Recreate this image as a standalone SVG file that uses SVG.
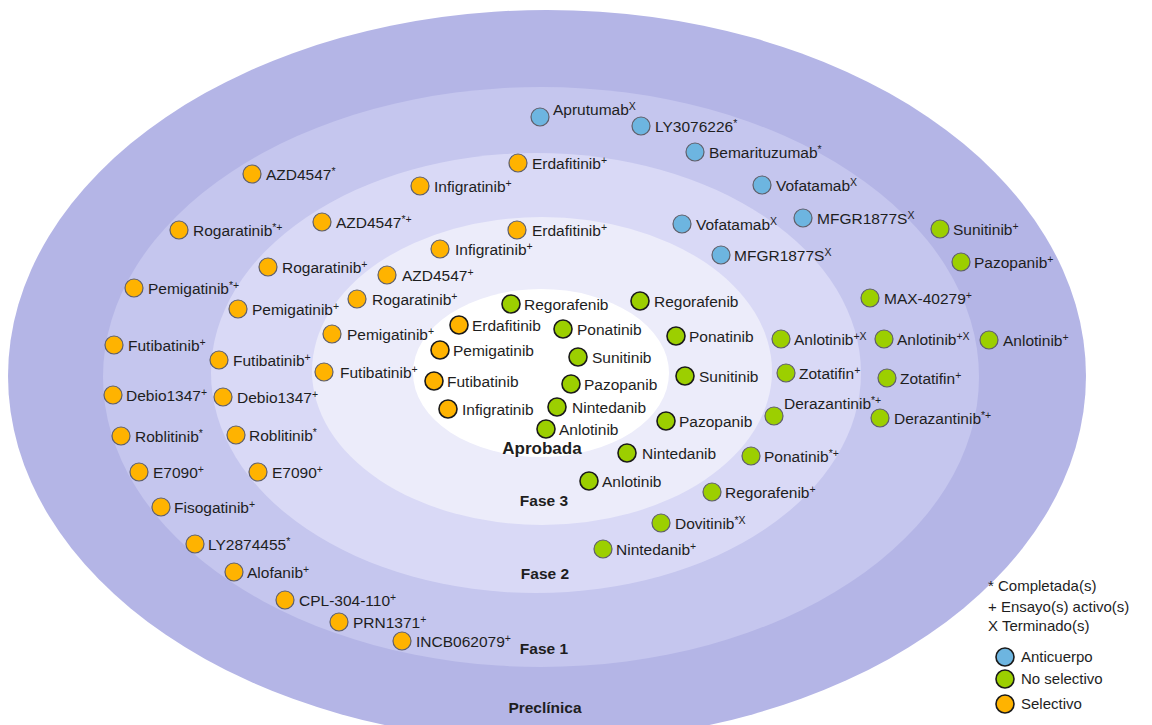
<svg xmlns="http://www.w3.org/2000/svg" width="1152" height="725" viewBox="0 0 1152 725">
<style>
text{font-family:"Liberation Sans",Arial,sans-serif;fill:#1e1e1e}
.l{font-size:15.5px}
.s{font-size:10.5px}
.ph{font-size:15.5px;font-weight:bold;text-anchor:middle}
.lg{font-size:15px}
circle{stroke:#5f5f6a;stroke-width:1.2}
.sel{fill:#ffb300}
.ns{fill:#9ccf00}
.ab{fill:#6db5e0}
.dk{stroke:#1a1a1a;stroke-width:1.6}
</style>
<g id="rings">
<ellipse cx="547" cy="376" rx="539" ry="366" fill="#b4b5e6"/>
<ellipse cx="541" cy="377" rx="438" ry="290" fill="#c5c6ee"/>
<ellipse cx="536" cy="373" rx="325" ry="220" fill="#d9d9f6"/>
<ellipse cx="542" cy="371" rx="230" ry="154" fill="#ececfa"/>
<ellipse cx="541" cy="373" rx="128" ry="84" fill="#ffffff"/>
</g>
<g id="phase-labels">
<text class="ph" x="542" y="454" style="font-size:17px">Aprobada</text>
<text class="ph" x="544" y="506">Fase 3</text>
<text class="ph" x="545" y="579">Fase 2</text>
<text class="ph" x="544" y="654">Fase 1</text>
<text class="ph" x="545" y="713">Preclínica</text>
</g>
<g id="aprobada">
<g id="a-erdafitinib"><circle class="sel dk" cx="459" cy="325" r="9"/><text class="l" x="472" y="331">Erdafitinib</text></g>
<g id="a-pemigatinib"><circle class="sel dk" cx="440" cy="350" r="9"/><text class="l" x="453" y="356">Pemigatinib</text></g>
<g id="a-futibatinib"><circle class="sel dk" cx="434" cy="381" r="9"/><text class="l" x="447" y="387">Futibatinib</text></g>
<g id="a-infigratinib"><circle class="sel dk" cx="448" cy="409" r="9"/><text class="l" x="462" y="415">Infigratinib</text></g>
<g id="a-regorafenib"><circle class="ns dk" cx="511" cy="304" r="9"/><text class="l" x="524" y="310">Regorafenib</text></g>
<g id="a-ponatinib"><circle class="ns dk" cx="563" cy="329" r="9"/><text class="l" x="577" y="335">Ponatinib</text></g>
<g id="a-sunitinib"><circle class="ns dk" cx="578" cy="357" r="9"/><text class="l" x="592" y="363">Sunitinib</text></g>
<g id="a-pazopanib"><circle class="ns dk" cx="571" cy="384" r="9"/><text class="l" x="584" y="390">Pazopanib</text></g>
<g id="a-nintedanib"><circle class="ns dk" cx="557" cy="407" r="9"/><text class="l" x="572" y="413">Nintedanib</text></g>
<g id="a-anlotinib"><circle class="ns dk" cx="546" cy="429" r="9"/><text class="l" x="559" y="435">Anlotinib</text></g>
</g>
<g id="fase3">
<g id="f3-erdafitinib"><circle class="sel" cx="517" cy="230" r="9"/><text class="l" x="532" y="236">Erdafitinib<tspan class="s" dy="-5">+</tspan></text></g>
<g id="f3-infigratinib"><circle class="sel" cx="440" cy="249" r="9"/><text class="l" x="455" y="255">Infigratinib<tspan class="s" dy="-5">+</tspan></text></g>
<g id="f3-azd4547"><circle class="sel" cx="387" cy="275" r="9"/><text class="l" x="402" y="281">AZD4547<tspan class="s" dy="-5">+</tspan></text></g>
<g id="f3-rogaratinib"><circle class="sel" cx="357" cy="299" r="9"/><text class="l" x="372" y="305">Rogaratinib<tspan class="s" dy="-5">+</tspan></text></g>
<g id="f3-pemigatinib"><circle class="sel" cx="332" cy="334" r="9"/><text class="l" x="347" y="340">Pemigatinib<tspan class="s" dy="-5">+</tspan></text></g>
<g id="f3-futibatinib"><circle class="sel" cx="324" cy="372" r="9"/><text class="l" x="340" y="378">Futibatinib<tspan class="s" dy="-5">+</tspan></text></g>
<g id="f3-vofatamab"><circle class="ab" cx="682" cy="224" r="9"/><text class="l" x="696" y="230">Vofatamab<tspan class="s" dy="-5">X</tspan></text></g>
<g id="f3-mfgr1877s"><circle class="ab" cx="721" cy="255" r="9"/><text class="l" x="734" y="261">MFGR1877S<tspan class="s" dy="-5">X</tspan></text></g>
<g id="f3-regorafenib"><circle class="ns dk" cx="640" cy="301" r="9"/><text class="l" x="654" y="307">Regorafenib</text></g>
<g id="f3-ponatinib"><circle class="ns dk" cx="676" cy="336" r="9"/><text class="l" x="689" y="342">Ponatinib</text></g>
<g id="f3-sunitinib"><circle class="ns dk" cx="685" cy="376" r="9"/><text class="l" x="699" y="382">Sunitinib</text></g>
<g id="f3-pazopanib"><circle class="ns dk" cx="666" cy="421" r="9"/><text class="l" x="679" y="427">Pazopanib</text></g>
<g id="f3-nintedanib"><circle class="ns dk" cx="627" cy="453" r="9"/><text class="l" x="642" y="459">Nintedanib</text></g>
<g id="f3-anlotinib"><circle class="ns dk" cx="589" cy="481" r="9"/><text class="l" x="602" y="487">Anlotinib</text></g>
</g>
<g id="fase2">
<g id="f2-erdafitinib"><circle class="sel" cx="518" cy="163" r="9"/><text class="l" x="532" y="169">Erdafitinib<tspan class="s" dy="-5">+</tspan></text></g>
<g id="f2-infigratinib"><circle class="sel" cx="420" cy="186" r="9"/><text class="l" x="434" y="192">Infigratinib<tspan class="s" dy="-5">+</tspan></text></g>
<g id="f2-azd4547"><circle class="sel" cx="322" cy="222" r="9"/><text class="l" x="336" y="228">AZD4547<tspan class="s" dy="-5">*+</tspan></text></g>
<g id="f2-rogaratinib"><circle class="sel" cx="268" cy="267" r="9"/><text class="l" x="282" y="273">Rogaratinib<tspan class="s" dy="-5">+</tspan></text></g>
<g id="f2-pemigatinib"><circle class="sel" cx="238" cy="309" r="9"/><text class="l" x="252" y="315">Pemigatinib<tspan class="s" dy="-5">+</tspan></text></g>
<g id="f2-futibatinib"><circle class="sel" cx="219" cy="360" r="9"/><text class="l" x="233" y="366">Futibatinib<tspan class="s" dy="-5">+</tspan></text></g>
<g id="f2-debio1347"><circle class="sel" cx="223" cy="397" r="9"/><text class="l" x="237" y="403">Debio1347<tspan class="s" dy="-5">+</tspan></text></g>
<g id="f2-roblitinib"><circle class="sel" cx="236" cy="435" r="9"/><text class="l" x="249" y="441">Roblitinib<tspan class="s" dy="-5">*</tspan></text></g>
<g id="f2-e7090"><circle class="sel" cx="258" cy="472" r="9"/><text class="l" x="272" y="478">E7090<tspan class="s" dy="-5">+</tspan></text></g>
<g id="f2-vofatamab"><circle class="ab" cx="762" cy="185" r="9"/><text class="l" x="776" y="191">Vofatamab<tspan class="s" dy="-5">X</tspan></text></g>
<g id="f2-mfgr1877s"><circle class="ab" cx="803" cy="218" r="9"/><text class="l" x="817" y="224">MFGR1877S<tspan class="s" dy="-5">X</tspan></text></g>
<g id="f2-anlotinib"><circle class="ns" cx="781" cy="339" r="9"/><text class="l" x="794" y="345">Anlotinib<tspan class="s" dy="-5">+X</tspan></text></g>
<g id="f2-zotatifin"><circle class="ns" cx="786" cy="373" r="9"/><text class="l" x="799" y="379">Zotatifin<tspan class="s" dy="-5">+</tspan></text></g>
<g id="f2-derazantinib"><circle class="ns" cx="774" cy="416" r="9"/><text class="l" x="784" y="409">Derazantinib<tspan class="s" dy="-5">*+</tspan></text></g>
<g id="f2-ponatinib"><circle class="ns" cx="751" cy="456" r="9"/><text class="l" x="764" y="462">Ponatinib<tspan class="s" dy="-5">*+</tspan></text></g>
<g id="f2-regorafenib"><circle class="ns" cx="712" cy="492" r="9"/><text class="l" x="725" y="498">Regorafenib<tspan class="s" dy="-5">+</tspan></text></g>
<g id="f2-dovitinib"><circle class="ns" cx="661" cy="523" r="9"/><text class="l" x="675" y="529">Dovitinib<tspan class="s" dy="-5">*X</tspan></text></g>
<g id="f2-nintedanib"><circle class="ns" cx="603" cy="549" r="9"/><text class="l" x="616" y="555">Nintedanib<tspan class="s" dy="-5">+</tspan></text></g>
</g>
<g id="fase1">
<g id="f1-aprutumab"><circle class="ab" cx="540" cy="117" r="9"/><text class="l" x="553" y="115">Aprutumab<tspan class="s" dy="-5">X</tspan></text></g>
<g id="f1-ly3076226"><circle class="ab" cx="641" cy="126" r="9"/><text class="l" x="655" y="132">LY3076226<tspan class="s" dy="-5">*</tspan></text></g>
<g id="f1-bemarituzumab"><circle class="ab" cx="695" cy="152" r="9"/><text class="l" x="709" y="158">Bemarituzumab<tspan class="s" dy="-5">*</tspan></text></g>
<g id="f1-azd4547"><circle class="sel" cx="252" cy="174" r="9"/><text class="l" x="266" y="180">AZD4547<tspan class="s" dy="-5">*</tspan></text></g>
<g id="f1-rogaratinib"><circle class="sel" cx="179" cy="230" r="9"/><text class="l" x="193" y="236">Rogaratinib<tspan class="s" dy="-5">*+</tspan></text></g>
<g id="f1-pemigatinib"><circle class="sel" cx="134" cy="288" r="9"/><text class="l" x="148" y="294">Pemigatinib<tspan class="s" dy="-5">*+</tspan></text></g>
<g id="f1-futibatinib"><circle class="sel" cx="114" cy="345" r="9"/><text class="l" x="128" y="351">Futibatinib<tspan class="s" dy="-5">+</tspan></text></g>
<g id="f1-debio1347"><circle class="sel" cx="113" cy="395" r="9"/><text class="l" x="126" y="401">Debio1347<tspan class="s" dy="-5">+</tspan></text></g>
<g id="f1-roblitinib"><circle class="sel" cx="121" cy="436" r="9"/><text class="l" x="135" y="442">Roblitinib<tspan class="s" dy="-5">*</tspan></text></g>
<g id="f1-e7090"><circle class="sel" cx="139" cy="472" r="9"/><text class="l" x="153" y="478">E7090<tspan class="s" dy="-5">+</tspan></text></g>
<g id="f1-fisogatinib"><circle class="sel" cx="161" cy="507" r="9"/><text class="l" x="174" y="513">Fisogatinib<tspan class="s" dy="-5">+</tspan></text></g>
<g id="f1-ly2874455"><circle class="sel" cx="195" cy="544" r="9"/><text class="l" x="208" y="550">LY2874455<tspan class="s" dy="-5">*</tspan></text></g>
<g id="f1-alofanib"><circle class="sel" cx="234" cy="572" r="9"/><text class="l" x="247" y="578">Alofanib<tspan class="s" dy="-5">+</tspan></text></g>
<g id="f1-cpl304110"><circle class="sel" cx="285" cy="600" r="9"/><text class="l" x="299" y="606">CPL-304-110<tspan class="s" dy="-5">+</tspan></text></g>
<g id="f1-prn1371"><circle class="sel" cx="339" cy="622" r="9"/><text class="l" x="353" y="628">PRN1371<tspan class="s" dy="-5">+</tspan></text></g>
<g id="f1-incb062079"><circle class="sel" cx="402" cy="641" r="9"/><text class="l" x="416" y="647">INCB062079<tspan class="s" dy="-5">+</tspan></text></g>
<g id="f1-max40279"><circle class="ns" cx="870" cy="298" r="9"/><text class="l" x="884" y="304">MAX-40279<tspan class="s" dy="-5">+</tspan></text></g>
<g id="f1-anlotinib"><circle class="ns" cx="884" cy="339" r="9"/><text class="l" x="897" y="345">Anlotinib<tspan class="s" dy="-5">+X</tspan></text></g>
<g id="f1-zotatifin"><circle class="ns" cx="887" cy="378" r="9"/><text class="l" x="900" y="384">Zotatifin<tspan class="s" dy="-5">+</tspan></text></g>
<g id="f1-derazantinib"><circle class="ns" cx="880" cy="418" r="9"/><text class="l" x="894" y="424">Derazantinib<tspan class="s" dy="-5">*+</tspan></text></g>
</g>
<g id="preclinica">
<g id="p-sunitinib"><circle class="ns" cx="940" cy="229" r="9"/><text class="l" x="953" y="235">Sunitinib<tspan class="s" dy="-5">+</tspan></text></g>
<g id="p-pazopanib"><circle class="ns" cx="961" cy="262" r="9"/><text class="l" x="974" y="268">Pazopanib<tspan class="s" dy="-5">+</tspan></text></g>
<g id="p-anlotinib"><circle class="ns" cx="989" cy="340" r="9"/><text class="l" x="1003" y="346">Anlotinib<tspan class="s" dy="-5">+</tspan></text></g>
</g>
<g id="legend">
<text class="lg" x="988" y="591">* Completada(s)</text>
<text class="lg" x="988" y="612">+ Ensayo(s) activo(s)</text>
<text class="lg" x="988" y="631">X Terminado(s)</text>
<g id="lg-anticuerpo"><circle class="ab dk" cx="1005" cy="657" r="9"/><text class="lg" x="1021" y="662">Anticuerpo</text></g>
<g id="lg-noselectivo"><circle class="ns dk" cx="1005" cy="679" r="9"/><text class="lg" x="1021" y="684">No selectivo</text></g>
<g id="lg-selectivo"><circle class="sel dk" cx="1005" cy="704" r="9"/><text class="lg" x="1021" y="709">Selectivo</text></g>
</g>
</svg>
